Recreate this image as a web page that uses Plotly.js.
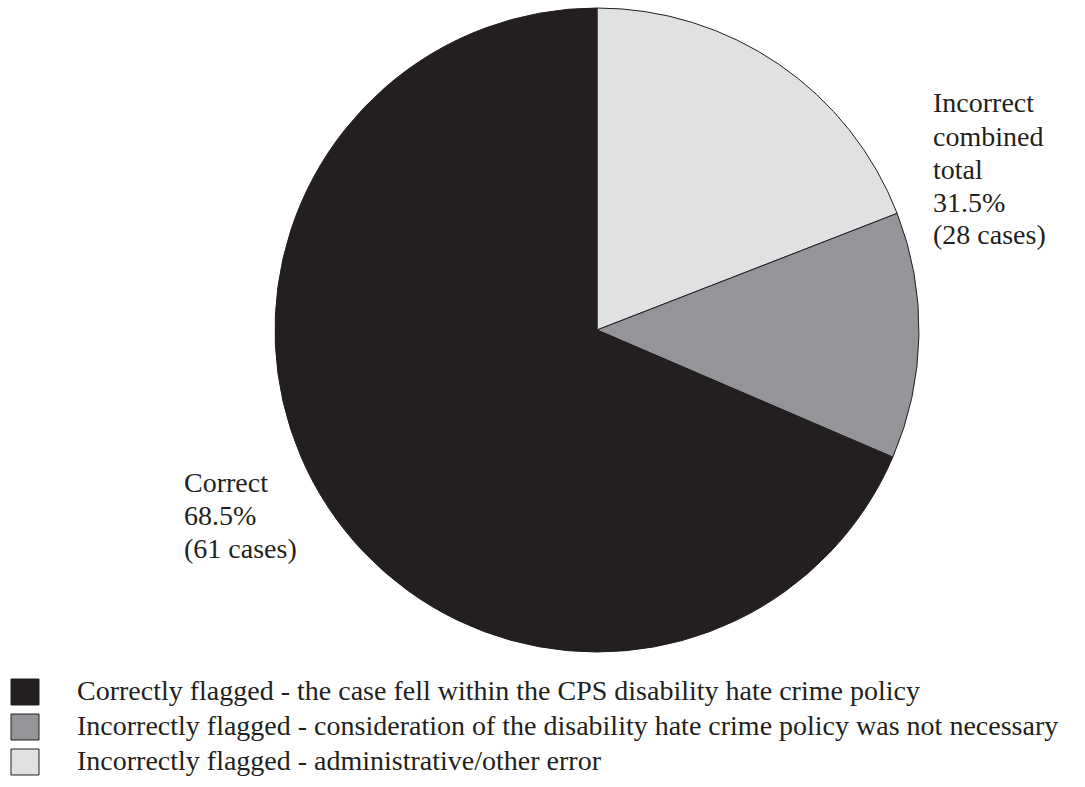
<!DOCTYPE html>
<html><head><meta charset="utf-8">
<script src="https://cdn.plot.ly/plotly-3.0.1.min.js"></script>
<style>html,body{margin:0;padding:0;background:#fff}</style>
</head><body>
<div id="chart" style="width:1085px;height:787px"></div>
<script>
const sliceLabels = ["Incorrectly flagged - administrative/other error",
  "Incorrectly flagged - consideration of the disability hate crime policy was not necessary",
  "Correctly flagged - the case fell within the CPS disability hate crime policy"];
const sliceValues = [17, 11, 61];
const sliceColors = ["#e0e1e3", "#939598", "#231f20"];
const legendOrder = [2, 1, 0];
const incorrectLines = ["Incorrect", "combined", "total", "31.5%", "(28 cases)"];
const correctLines = ["Correct", "68.5%", "(61 cases)"];

const W = 1085, H = 787;
const font = {family: "Liberation Serif, DejaVu Serif, serif", size: 28, color: "#231f20"};

const annotations = [];
function addLines(lines, x, firstCenter, pitch) {
  lines.forEach((t, i) => annotations.push({text: t, x: x/W, y: 1 - (firstCenter + i*pitch)/H,
    xref: "paper", yref: "paper", xanchor: "left", yanchor: "middle", align: "left",
    showarrow: false, font: font}));
}
addLines(incorrectLines, 931, 103, 33);
addLines(correctLines, 182, 482, 33);

const shapes = [];
legendOrder.forEach((idx, i) => {
  const cy = 692 + i * 35;
  shapes.push({type: "rect", xref: "paper", yref: "paper",
    x0: 11/W, x1: 39/W, y0: 1 - (cy + 13)/H, y1: 1 - (cy - 13)/H,
    fillcolor: sliceColors[idx], line: {color: "#231f20", width: 1}});
  annotations.push({text: sliceLabels[idx], x: 75/W, y: 1 - (cy - 2)/H, xref: "paper", yref: "paper",
    xanchor: "left", yanchor: "middle", showarrow: false, font: font});
});

const trace = {
  type: "pie", values: sliceValues, labels: sliceLabels, sort: false,
  direction: "clockwise", rotation: 0, textinfo: "none", hoverinfo: "none",
  marker: {colors: sliceColors, line: {color: "#231f20", width: 1}},
  domain: {x: [(597-322)/W, (597+322)/W], y: [1 - 652/H, 1 - 8/H]},
  showlegend: false
};
Plotly.newPlot("chart", [trace], {
  width: W, height: H, margin: {l: 0, r: 0, t: 0, b: 0},
  paper_bgcolor: "#fff", showlegend: false, annotations: annotations, shapes: shapes
}, {staticPlot: true});
</script>
</body></html>
